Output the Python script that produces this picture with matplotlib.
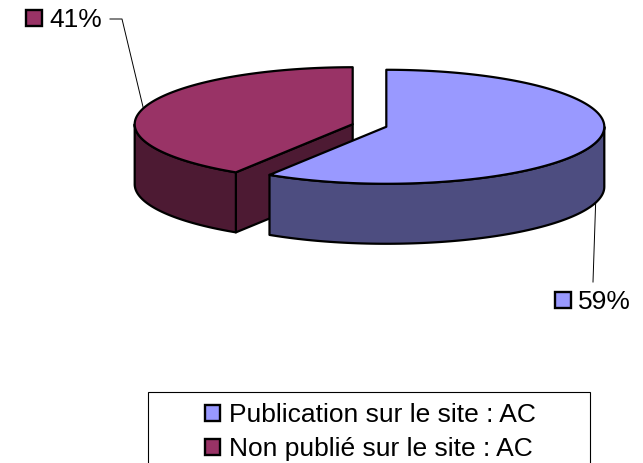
import numpy as np
import matplotlib.pyplot as plt
from matplotlib.patches import Polygon, Rectangle

plt.rcParams['font.family'] = ['Liberation Sans', 'DejaVu Sans']

labels = ['Publication sur le site : AC', 'Non publié sur le site : AC']
values = [59, 41]
top_colors = ['#9999FF', '#993366']
side_colors = ['#4D4D80', '#4D1A33']

# pie geometry in pixels
cx, cy = 369.5, 125.5
rx, ry = 218.0, 57.0
depth = 60.0
explode = 17.5


def pt(c, th, dz=0.0):
    t = np.deg2rad(th)
    return np.column_stack([c[0] + rx * np.sin(t), c[1] - ry * np.cos(t) + dz])


def draw_slice(ax, c, a0, a1, top, side):
    kw = dict(edgecolor='black', linewidth=1.6, joinstyle='round')
    # radial faces
    for a, n in ((a0, a0 - 90), (a1, a1 + 90)):
        if np.cos(np.deg2rad(n)) < -1e-6:
            p = pt(c, a)[0]
            quad = [c, p, p + [0, depth], (c[0], c[1] + depth)]
            ax.add_patch(Polygon(quad, closed=True, facecolor=side, **kw))
    # outer wall, only the front half
    lo, hi = max(a0, 90), min(a1, 270)
    if hi > lo:
        th = np.linspace(lo, hi, 100)
        wall = np.vstack([pt(c, th), pt(c, th[::-1], depth)])
        ax.add_patch(Polygon(wall, closed=True, facecolor=side, **kw))
    # top
    th = np.linspace(a0, a1, 200)
    poly = np.vstack([[c], pt(c, th)])
    ax.add_patch(Polygon(poly, closed=True, facecolor=top, **kw))


fig = plt.figure(figsize=(6.43, 4.63), dpi=100)
ax = fig.add_axes([0, 0, 1, 1])
ax.set_xlim(0, 643)
ax.set_ylim(463, 0)
ax.axis('off')

total = sum(values)
angles = np.cumsum([0] + [v / total * 360 for v in values])
slices = []
for i, v in enumerate(values):
    a0, a1 = angles[i], angles[i + 1]
    mid = np.deg2rad((a0 + a1) / 2)
    c = (cx + explode * np.sin(mid), cy - explode * np.cos(mid) * ry / rx)
    slices.append((c, a0, a1, (a0 + a1) / 2))

for i in reversed(range(len(values))):
    c, a0, a1, _ = slices[i]
    draw_slice(ax, c, a0, a1, top_colors[i], side_colors[i])

# data labels with leader lines
lab_pos = [(578, 309), (49, 27)]
for i, v in enumerate(values):
    c, a0, a1, mid = slices[i]
    tx, ty = lab_pos[i]
    ax.text(tx, ty, f'{v}%', fontsize=19, ha='left', va='baseline')
    ax.add_patch(Rectangle((tx - 23, ty - 17), 16, 16, facecolor=top_colors[i],
                           edgecolor='black', linewidth=1.7))
    front = np.cos(np.deg2rad(mid)) < 0
    end = pt(c, mid, depth if front else 0)[0]
    if front:
        ax.plot([tx + 15, end[0]], [ty - 27, end[1]], color='black', lw=0.7)
    else:
        ax.plot([tx + 61, tx + 73, end[0]], [ty - 8, ty - 8, end[1]],
                color='black', lw=0.7)

# legend
ax.add_patch(Rectangle((148, 392), 442, 90, facecolor='white',
                       edgecolor='black', linewidth=0.8))
for i, lab in enumerate(labels):
    by = 422 + 34 * i
    ax.add_patch(Rectangle((205, by - 17), 15, 16, facecolor=top_colors[i],
                           edgecolor='black', linewidth=1.7))
    ax.text(229, by, lab, fontsize=19, ha='left', va='baseline')

fig.savefig('out.png', dpi=100)
